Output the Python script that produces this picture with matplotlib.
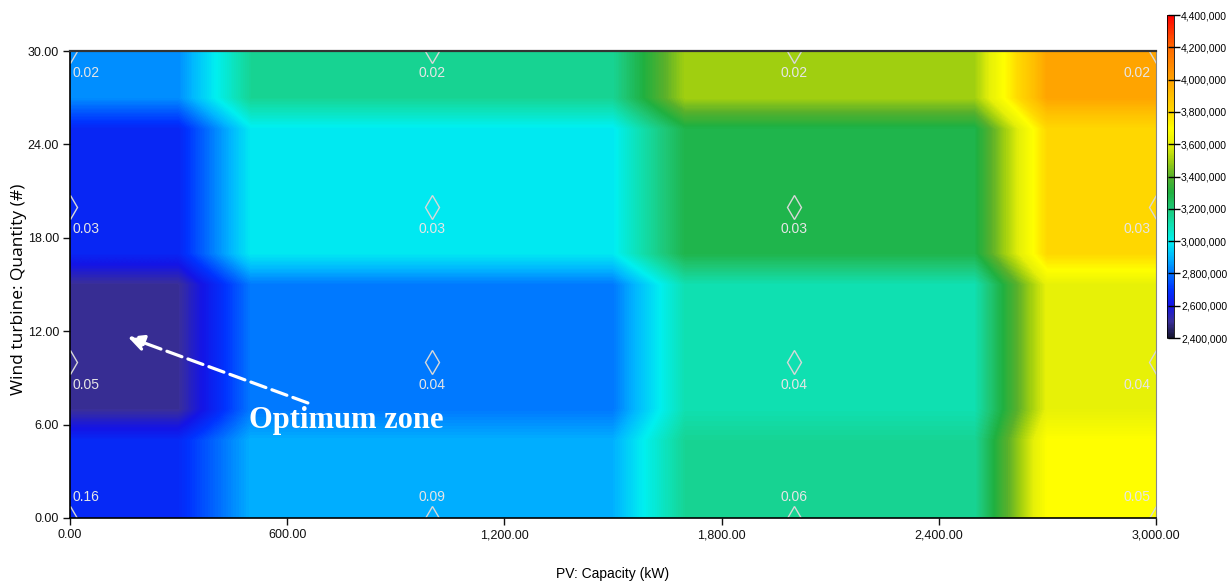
import numpy as np
import matplotlib.pyplot as plt
from matplotlib.colors import LinearSegmentedColormap
from matplotlib.ticker import FuncFormatter

# grid nodes (sensitivity points)
pv_capacity = [0, 1000, 2000, 3000]          # kW
wind_qty = [0, 10, 20, 30]                   # turbines

# net present cost at each node, rows = wind_qty, cols = pv_capacity
npc = [
    [2.67e6, 2.89e6, 3.15e6, 3.70e6],   # wind 0
    [2.50e6, 2.81e6, 3.10e6, 3.61e6],   # wind 10
    [2.66e6, 2.99e6, 3.28e6, 3.80e6],   # wind 20
    [2.84e6, 3.15e6, 3.50e6, 3.99e6],   # wind 30
]

# value shown under each node marker
node_labels = [
    ["0.16", "0.09", "0.06", "0.05"],
    ["0.05", "0.04", "0.04", "0.04"],
    ["0.03", "0.03", "0.03", "0.03"],
    ["0.02", "0.02", "0.02", "0.02"],
]

x_ticks = [0, 600, 1200, 1800, 2400, 3000]
y_ticks = [0, 6, 12, 18, 24, 30]
cbar_ticks = np.arange(2.4e6, 4.41e6, 2e5)

# block layout of the surface (sub-cells of 200 kW / 2 turbines per node)
x_rep = [2, 6, 5, 2]
y_rep = [3, 5, 5, 2]

# colour scale similar to the HOMER surface plot
anchors = [
    (2.40e6, "#15152e"), (2.50e6, "#3a2f9a"), (2.60e6, "#1414e6"),
    (2.70e6, "#0034ff"), (2.80e6, "#0074ff"), (2.90e6, "#00b8ff"),
    (3.00e6, "#00f0f0"), (3.10e6, "#10e0b0"), (3.20e6, "#1ec878"),
    (3.30e6, "#20b040"), (3.40e6, "#58b02c"), (3.50e6, "#a2d010"),
    (3.60e6, "#e6f008"), (3.70e6, "#ffff00"), (3.80e6, "#ffd800"),
    (3.90e6, "#ffc000"), (4.00e6, "#ffa200"), (4.20e6, "#ff6a00"),
    (4.40e6, "#ff0000"),
]
vmin, vmax = 2.4e6, 4.4e6
cmap = LinearSegmentedColormap.from_list(
    "homer", [((v - vmin) / (vmax - vmin), c) for v, c in anchors])

sans = "Liberation Sans"

fig = plt.figure(figsize=(12.27, 5.83), dpi=100)
ax = fig.add_axes([0.0571, 0.1115, 0.885, 0.801])

z = np.repeat(np.repeat(np.array(npc), y_rep, axis=0), x_rep, axis=1)
im = ax.imshow(z, origin="lower", extent=[0, 3000, 0, 30], aspect="auto",
               cmap=cmap, vmin=vmin, vmax=vmax,
               interpolation="bilinear", interpolation_stage="data")

# node markers and labels
for i, w in enumerate(wind_qty):
    for j, pv in enumerate(pv_capacity):
        ax.plot(pv, w, marker="d", ms=12, mfc="none", mec="#d8d8d8",
                mew=1.0, clip_on=True)
        if j == 0:
            ha, dx = "left", 2
        elif j == len(pv_capacity) - 1:
            ha, dx = "right", -4
        else:
            ha, dx = "center", 0
        dy = 15 if i == 0 else -16
        ax.annotate(node_labels[i][j], (pv, w), xytext=(dx, dy),
                    textcoords="offset points", ha=ha, va="center",
                    color="#e6e6e6", fontsize=10, family=sans)

# annotation
ax.annotate("", xy=(160, 11.63), xytext=(657, 7.39),
            arrowprops=dict(arrowstyle="-|>", color="white", lw=2.3,
                            linestyle=(0, (5, 2)), mutation_scale=24,
                            shrinkA=0, shrinkB=0))
ax.text(762, 5.78, "Optimum zone", color="white", fontsize=22,
        fontweight="bold", ha="center", va="baseline",
        family=["Liberation Serif", "DejaVu Serif"])

ax.set_xlim(0, 3000)
ax.set_ylim(0, 30)
ax.set_xticks(x_ticks)
ax.set_yticks(y_ticks)
ax.xaxis.set_major_formatter(FuncFormatter(lambda v, p: f"{v:,.2f}"))
ax.yaxis.set_major_formatter(FuncFormatter(lambda v, p: f"{v:,.2f}"))
ax.tick_params(length=5, width=1, labelsize=9, colors="#111111", pad=3)
for lab in ax.get_xticklabels() + ax.get_yticklabels():
    lab.set_family(sans)
for s in ["left", "bottom"]:
    ax.spines[s].set_color("black")
    ax.spines[s].set_linewidth(1.2)
ax.spines["top"].set_color("#333333")
ax.spines["top"].set_linewidth(1.6)
ax.spines["right"].set_color("#888888")

ax.set_xlabel("PV: Capacity (kW)", fontsize=10, family=sans)
ax.xaxis.set_label_coords(0.5, -0.105)
ax.set_ylabel("Wind turbine: Quantity (#)", fontsize=12.5,
              family=["Open Sans", "DejaVu Sans"])
ax.yaxis.set_label_coords(-0.040, 0.49)

# colour bar
cax = fig.add_axes([0.9511, 0.4202, 0.0057, 0.554])
cb = fig.colorbar(im, cax=cax, ticks=cbar_ticks)
cb.ax.yaxis.set_major_formatter(FuncFormatter(lambda v, p: f"{v:,.0f}"))
cb.ax.tick_params(direction="inout", length=8, width=1, labelsize=7.5,
                  pad=1)
for lab in cb.ax.get_yticklabels():
    lab.set_family(sans)
cb.outline.set_linewidth(0.6)

fig.savefig("out.png", dpi=100)
